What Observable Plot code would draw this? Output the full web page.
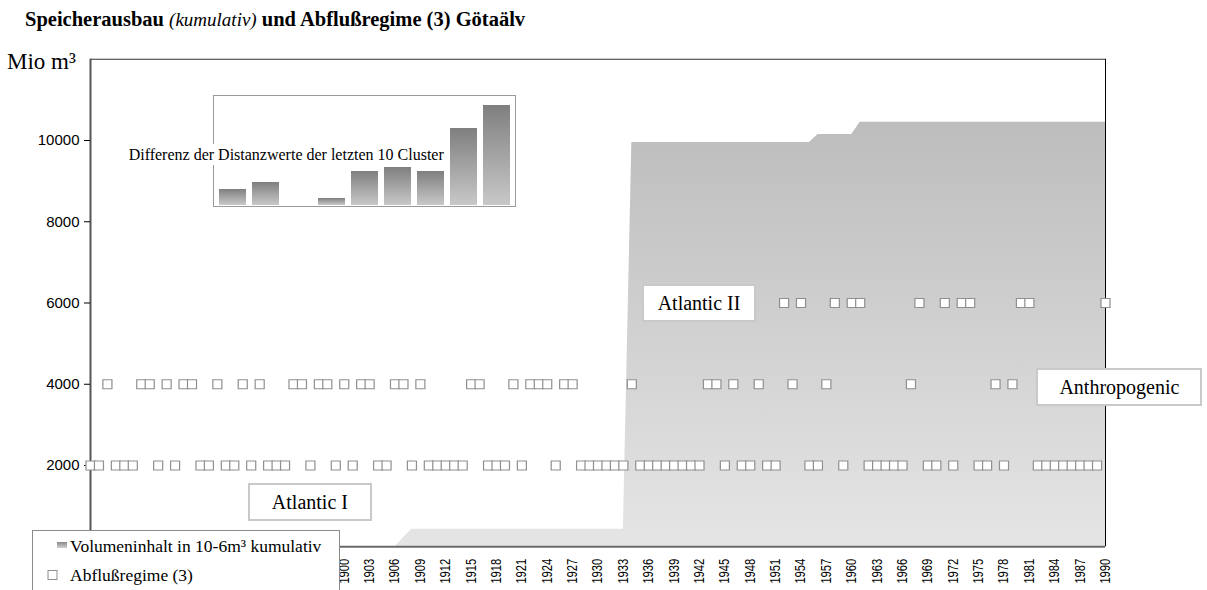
<!DOCTYPE html>
<html><head><meta charset="utf-8">
<script src="https://cdn.jsdelivr.net/npm/d3@7"></script>
<script src="https://cdn.jsdelivr.net/npm/@observablehq/plot@0.6"></script>
<style>
html,body{margin:0;padding:0;background:#fff;}
#wrap{position:relative;width:1207px;height:590px;overflow:hidden;font-family:"Liberation Serif","Times New Roman",serif;color:#000;}
#wrap svg{position:absolute;left:0;top:0;}
.abs{position:absolute;}
.title{left:25px;top:7px;font-size:20.5px;line-height:24px;font-weight:bold;white-space:nowrap;}
.title i{font-weight:normal;font-size:19px;}
.ylab{font-size:23px;background:#fff;padding:0 4px 0 2px;line-height:26px;white-space:nowrap;}
.note{background:#fff;border:2px solid #c9c9c9;font-size:20px;line-height:22px;height:22px;padding:6px 0;text-align:center;white-space:nowrap;transform:translate(-50%,-50%);}
.inset{border:1.5px solid #9a9a9a;background:#fff;box-sizing:border-box;}
.insetlab{background:#fff;font-size:16px;line-height:21px;padding:0 4px;white-space:nowrap;}
.legend{background:#fff;border:1px solid #8a8a8a;box-sizing:border-box;}
.legend .row{position:absolute;font-size:17.5px;line-height:20px;white-space:nowrap;}
</style></head>
<body><div id="wrap"></div>
<script>
// ---------------- data ----------------
// x tick labels visible (1870–1897 sit behind the legend in the original)
const xTicks = [1900,1903,1906,1909,1912,1915,1918,1921,1924,1927,1930,1933,1936,1939,1942,1945,1948,1951,1954,1957,1960,1963,1966,1969,1972,1975,1978,1981,1984,1987,1990];
const yTicks = [2000,4000,6000,8000,10000];
const yDomain = [0, 12000];
const xDomain = [1870, 1990];

// cumulative storage volume (Mio m³), break points of the area
const volYears  = [1870, 1906, 1907, 1908, 1933, 1934, 1955, 1956, 1960, 1961, 1990];
const volValues = [0,    0,    220,  430,  430,  9950, 9950, 10150, 10150, 10450, 10450];

// discharge regime (3 clusters) shown at levels 2000 / 4000 / 6000
const regimeLevels = [2000, 4000, 6000];
const regime1Years = [1870,1871,1873,1874,1875,1878,1880,1883,1884,1886,1887,1889,1891,1892,1893,1896,1899,1901,1904,1905,1908,1910,1911,1912,1913,1914,1917,1918,1919,1921,1925,1928,1929,1930,1931,1932,1933,1935,1936,1937,1938,1939,1940,1941,1942,1945,1947,1948,1950,1951,1955,1956,1959,1962,1963,1964,1965,1966,1969,1970,1972,1975,1976,1978,1982,1983,1984,1985,1986,1987,1988,1989];
const regime2Years = [1872,1876,1877,1879,1881,1882,1885,1888,1890,1894,1895,1897,1898,1900,1902,1903,1906,1907,1909,1915,1916,1920,1922,1923,1924,1926,1927,1934,1943,1944,1946,1949,1953,1957,1967,1977,1979];
const regime3Years = [1952,1954,1958,1960,1961,1968,1971,1973,1974,1980,1981,1990];

// inset: differences of distance values of the last 10 clusters
const clusterSteps = ["1","2","3","4","5","6","7","8","9"];
const clusterDiff  = [16, 23, 0, 7, 34, 38, 34, 77, 100];

// annotations
const noteTexts  = ["Atlantic I", "Atlantic II", "Anthropogenic"];
const noteYears  = [1896, 1942, 1991.7];
const noteValues = [1090, 5980, 3930];

// ---------------- build ----------------
const volData = volYears.map((year, i) => ({year, value: volValues[i]}));
const regimeData = [
  ...regime1Years.map(year => ({year, value: regimeLevels[0]})),
  ...regime2Years.map(year => ({year, value: regimeLevels[1]})),
  ...regime3Years.map(year => ({year, value: regimeLevels[2]}))
].sort((a, b) => a.year - b.year);

const wrap = document.getElementById("wrap");
const NS = "http://www.w3.org/2000/svg";
function addGradient(svg, id, top, bottom) {
  let defs = svg.querySelector("defs");
  if (!defs) { defs = document.createElementNS(NS, "defs"); svg.insertBefore(defs, svg.firstChild); }
  const g = document.createElementNS(NS, "linearGradient");
  g.setAttribute("id", id); g.setAttribute("x1", "0"); g.setAttribute("y1", "0"); g.setAttribute("x2", "0"); g.setAttribute("y2", "1");
  [[0, top], [1, bottom]].forEach(([o, c]) => {
    const s = document.createElementNS(NS, "stop");
    s.setAttribute("offset", o); s.setAttribute("stop-color", c); g.appendChild(s);
  });
  defs.appendChild(g);
}

const chart = Plot.plot({
  width: 1207, height: 590,
  marginLeft: 90, marginRight: 102, marginTop: 58.75, marginBottom: 43.75,
  x: {type: "linear", domain: xDomain},
  y: {domain: yDomain},
  style: {background: "transparent", fontFamily: "'Liberation Sans', Arial, sans-serif", fontSize: "14px", color: "#000"},
  marks: [
    Plot.areaY(volData, {x: "year", y: "value", fill: "url(#volGrad)", curve: "linear"}),
    Plot.ruleY([yDomain[1]], {stroke: "#333", strokeWidth: 1}),
    Plot.ruleX([xDomain[1]], {stroke: "#000", strokeWidth: 1}),
    Plot.ruleY([yDomain[0]], {stroke: "#6a6a6a", strokeWidth: 2}),
    Plot.ruleX([xDomain[0]], {stroke: "#555", strokeWidth: 2}),
    Plot.axisY({ticks: yTicks, tickSize: 6, tickPadding: 5, fontSize: 15, label: null, tickFormat: d => String(d)}),
    Plot.axisX({ticks: xTicks, tickSize: 0, tickPadding: 12, tickRotate: -90, label: null, tickFormat: d => String(d)}),
    Plot.dot(regimeData, {x: "year", y: "value", symbol: "square", r: 5.1, fill: "white", stroke: "#8f8f8f", strokeWidth: 1.2})
  ]
});
addGradient(chart, "volGrad", "#bdbdbd", "#e5e5e5");
addGradient(chart, "barGrad", "#7f7f7f", "#c8c8c8");
addGradient(chart, "legGrad", "#8a8a8a", "#d0d0d0");
wrap.appendChild(chart);

// condense rotated x tick labels
chart.querySelectorAll('g[aria-label="x-axis tick label"] text').forEach(t => {
  const tr = t.getAttribute("transform");
  if (tr) t.setAttribute("transform", tr + " scale(0.8,1)");
});

const X = chart.scale("x"), Y = chart.scale("y");

// y unit label
const ylab = document.createElement("div");
ylab.className = "abs ylab"; ylab.textContent = "Mio m³";
ylab.style.left = "5px"; ylab.style.top = (Y.apply(yDomain[1]) - 10) + "px";
wrap.appendChild(ylab);

// title
const title = document.createElement("div");
title.className = "abs title";
title.innerHTML = "Speicherausbau <i>(kumulativ)</i> und Abflußregime (3) Götaälv";
wrap.appendChild(title);

// inset bar chart
const insetLeft = X.apply(1884.5), insetTop = Y.apply(11110);
const inset = document.createElement("div");
inset.className = "abs inset";
inset.style.left = insetLeft + "px"; inset.style.top = insetTop + "px";
inset.style.width = "303px"; inset.style.height = "112px";
wrap.appendChild(inset);
const bars = Plot.plot({
  width: 300, height: 109,
  marginLeft: 2, marginRight: 1, marginTop: 9, marginBottom: 0,
  x: {domain: clusterSteps, paddingInner: 0.17, paddingOuter: 0, axis: null},
  y: {domain: [0, 100], axis: null},
  style: {background: "transparent"},
  marks: [Plot.barY(clusterDiff.map((d, i) => ({step: clusterSteps[i], diff: d})), {x: "step", y: "diff", fill: "url(#barGrad)"})]
});
bars.style.position = "absolute"; bars.style.left = "0px"; bars.style.top = "0px";
inset.appendChild(bars);
const insetLab = document.createElement("div");
insetLab.className = "abs insetlab";
insetLab.textContent = "Differenz der Distanzwerte der letzten 10 Cluster";
insetLab.style.left = (insetLeft - 88) + "px"; insetLab.style.top = (insetTop + 49) + "px";
wrap.appendChild(insetLab);

// annotation boxes
const noteWidths = [120, 110, 162];
noteTexts.forEach((txt, i) => {
  const d = document.createElement("div");
  d.className = "abs note"; d.textContent = txt;
  d.style.width = noteWidths[i] + "px";
  d.style.left = X.apply(noteYears[i]) + "px";
  d.style.top = Y.apply(noteValues[i]) + "px";
  wrap.appendChild(d);
});

// legend
const legend = document.createElement("div");
legend.className = "abs legend";
legend.style.left = "32px"; legend.style.top = "530px"; legend.style.width = "308px"; legend.style.height = "70px";
legend.innerHTML = `
  <svg width="40" height="60" style="position:absolute;left:0;top:0">
    <rect x="24" y="11" width="10" height="6" fill="url(#legGrad)"></rect>
    <rect x="15" y="39.5" width="9" height="9" fill="#fff" stroke="#8f8f8f" stroke-width="1"></rect>
  </svg>
  <div class="row" style="left:37px;top:5px">Volumeninhalt in 10-6m³ kumulativ</div>
  <div class="row" style="left:37px;top:34px">Abflußregime (3)</div>`;
wrap.appendChild(legend);
</script>
</body></html>
